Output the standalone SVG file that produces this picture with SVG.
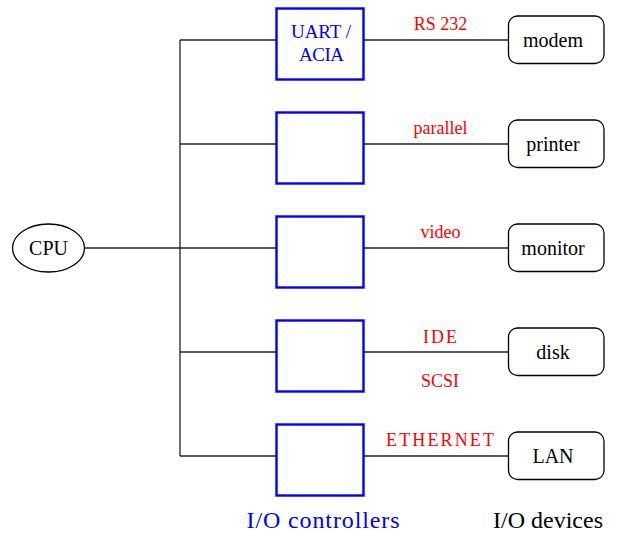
<svg xmlns="http://www.w3.org/2000/svg" width="618" height="540" viewBox="0 0 618 540">
<style>
text{font-family:"Liberation Serif","DejaVu Serif","Times New Roman",serif;text-anchor:middle}
.wire{stroke:#222;stroke-width:1.3;fill:none}
.ctl{fill:none;stroke:#0000ff;stroke-width:2.4}
.dev{fill:#fff;stroke:#000;stroke-width:1.3}
.nt{font-size:20px;fill:#000}
.ct{font-size:19px;fill:#0000ff}
.lb{font-size:18px;fill:#ff0000}
.ft{font-size:24px}
</style>
<g id="connectors">
<path class="wire" d="M84.5 248H276M180 40V456M180 40H276M180 144H276M180 352H276M180 456H276"/>
<path class="wire" d="M364 40H508M364 144H508M364 248H508M364 352H508M364 456H508"/>
</g>
<g id="cpu"><ellipse cx="48.5" cy="248" rx="36" ry="24" fill="#fff" stroke="#000" stroke-width="1.3"/><text class="nt" x="48.5" y="254.5">CPU</text></g>
<g id="ctl1"><rect class="ctl" x="276.5" y="8.5" width="87" height="71"/><text class="ct" x="321" y="37.7" textLength="60" lengthAdjust="spacing">UART /</text><text class="ct" x="321.5" y="61" textLength="45" lengthAdjust="spacing">ACIA</text></g>
<g id="ctl2"><rect class="ctl" x="276.5" y="112.5" width="87" height="71"/></g>
<g id="ctl3"><rect class="ctl" x="276.5" y="216.5" width="87" height="71"/></g>
<g id="ctl4"><rect class="ctl" x="276.5" y="320.5" width="87" height="71"/></g>
<g id="ctl5"><rect class="ctl" x="276.5" y="424.5" width="87" height="71"/></g>
<g id="modem"><rect class="dev" x="508.5" y="16" width="95.5" height="47.5" rx="9"/><text class="nt" x="553" y="46.7">modem</text></g>
<g id="printer"><rect class="dev" x="508.5" y="120" width="95.5" height="47.5" rx="9"/><text class="nt" x="553" y="150.7">printer</text></g>
<g id="monitor"><rect class="dev" x="508.5" y="224" width="95.5" height="47.5" rx="9"/><text class="nt" x="553" y="254.7">monitor</text></g>
<g id="disk"><rect class="dev" x="508.5" y="328" width="95.5" height="47.5" rx="9"/><text class="nt" x="553" y="358.7">disk</text></g>
<g id="lan"><rect class="dev" x="508.5" y="432" width="95.5" height="47.5" rx="9"/><text class="nt" x="553" y="462.7">LAN</text></g>
<g id="labels">
<text class="lb" x="440.5" y="30">RS 232</text>
<text class="lb" x="440.5" y="134">parallel</text>
<text class="lb" x="440.5" y="238">video</text>
<text class="lb" x="440" y="342.5" textLength="34" lengthAdjust="spacing">IDE</text>
<text class="lb" x="440" y="386.7">SCSI</text>
<text class="lb" x="440" y="446" textLength="108" lengthAdjust="spacing">ETHERNET</text>
<text class="ft" x="323" y="528" fill="#0000ff" textLength="153" lengthAdjust="spacing">I/O controllers</text>
<text class="ft" x="548" y="528" fill="#000" textLength="110" lengthAdjust="spacing">I/O devices</text>
</g>
</svg>
